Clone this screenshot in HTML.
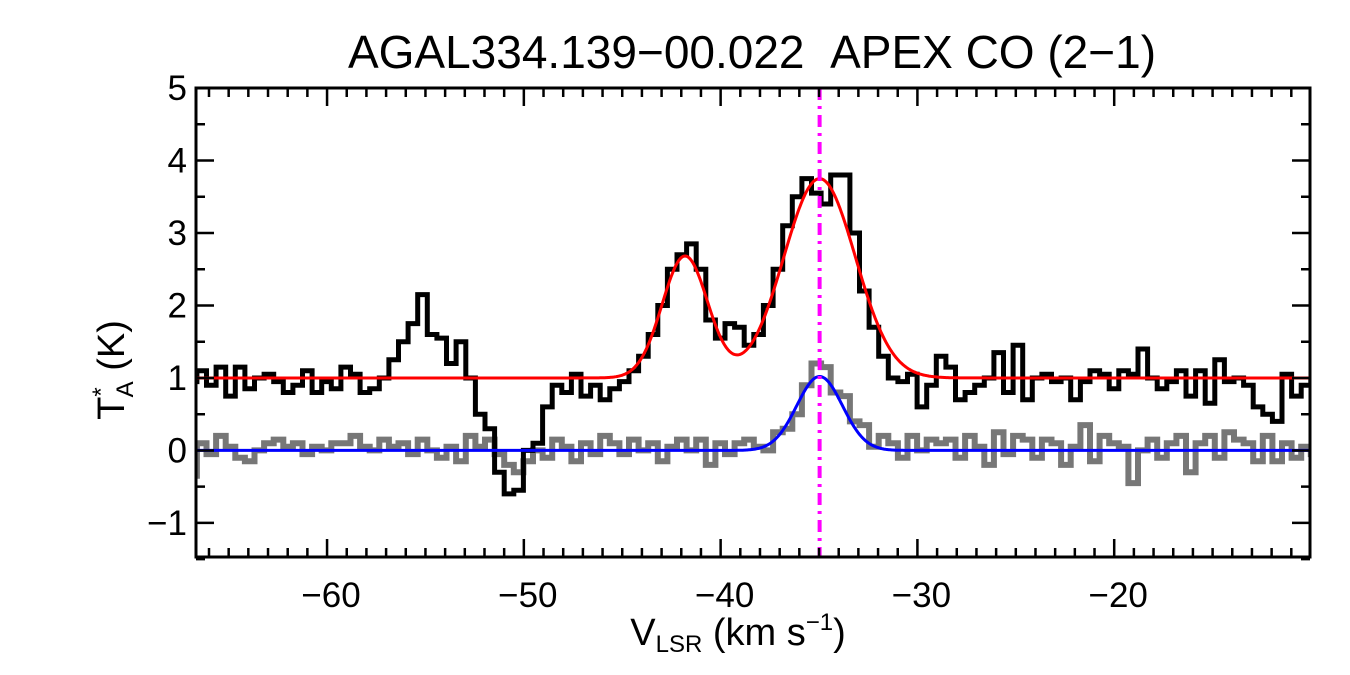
<!DOCTYPE html>
<html><head><meta charset="utf-8"><style>
html,body{margin:0;padding:0;background:#fff}
svg{display:block;font-family:"Liberation Sans",sans-serif}
</style></head><body>
<svg id="chart" width="1350" height="675" viewBox="0 0 1350 675">
<text x="752" y="68" text-anchor="middle" font-size="46">AGAL334.139−00.022&#160;&#160;APEX CO (2−1)</text>
<g id="plot"></g>
<text x="738" y="645" text-anchor="middle" font-size="38">V<tspan font-size="24" dy="7">LSR</tspan><tspan dy="-7"> (km s</tspan><tspan font-size="24" dy="-15">−1</tspan><tspan dy="15">)</tspan></text>
<text transform="translate(124,370) rotate(-90)" text-anchor="middle" font-size="38">T<tspan font-size="24" dy="-15">*</tspan><tspan font-size="24" dx="-10" dy="24">A</tspan><tspan dy="-9"> (K)</tspan></text>
</svg>
<script>
const vStart = -66.86, vStep = 0.488;
const blackVals = [0.95,1.1,0.9,1.15,0.75,1.15,0.85,1.0,1.05,0.95,0.8,0.9,1.1,0.8,0.95,0.85,1.15,1.05,0.8,0.85,1.0,1.25,1.5,1.75,2.15,1.6,1.55,1.2,1.5,1.0,0.5,0.3,-0.3,-0.6,-0.55,0.0,0.1,0.6,0.9,0.8,1.05,0.75,0.9,0.7,0.85,0.95,1.1,1.3,1.6,2.0,2.5,2.7,2.85,2.5,1.8,1.55,1.75,1.7,1.45,1.6,2.0,2.5,3.1,3.5,3.75,3.55,3.4,3.8,3.8,3.0,2.2,1.7,1.3,1.0,0.95,1.05,0.6,0.9,
1.3,1.15,0.7,0.8,0.9,1.0,1.35,0.8,1.45,0.7,1.0,1.05,0.95,1.0,0.7,0.95,1.1,1.05,0.85,1.1,1.05,1.4,1.0,0.85,0.95,1.1,0.75,1.1,0.65,1.25,0.95,1.0,0.9,0.6,0.5,0.4,1.05,0.75,0.9,0.95];
const grayVals = [-0.35,0.1,-0.05,0.2,0.05,-0.1,-0.15,0.0,0.1,0.15,0.05,0.1,-0.05,0.05,0.0,0.1,0.1,0.2,0.05,0.0,0.15,0.05,0.1,-0.05,0.15,0.0,-0.1,0.05,-0.15,0.2,0.05,0.15,-0.05,-0.2,-0.3,-0.15,0.0,-0.1,0.15,0.05,-0.15,0.1,-0.05,0.2,0.1,-0.05,0.15,0.0,0.1,-0.15,0.05,0.15,0.0,0.15,-0.2,0.1,-0.05,0.1,0.15,0.05,0.0,0.25,0.3,0.5,0.9,1.2,1.15,0.8,0.75,0.4,0.35,0.05,0.2,0.1,-0.1,0.2,0.0,0.15,
0.1,0.15,-0.1,0.2,0.05,-0.2,0.25,-0.05,0.2,0.15,-0.1,0.15,0.1,-0.2,0.05,0.35,-0.15,0.2,0.1,0.05,-0.45,0.0,0.15,-0.1,0.1,0.2,-0.3,0.1,0.2,-0.1,0.25,0.15,0.1,-0.15,0.2,-0.15,0.1,-0.1,0.05,-0.05];
const redBase = 1.0;
const redCenters = [-41.81, -34.97];
const redAmps = [1.68, 2.75];
const redSigmas = [1.16, 1.82];
const blueCenter = -34.97, blueAmp = 1.02, blueSigma = 1.16;
const markerV = -34.97;
const xTicks = [-60,-50,-40,-30,-20];
const yTicks = [-1,0,1,2,3,4,5];

const X0=196, X1=1310, Y0=88, Y1=557;
const vMin=-66.66, vMax=-10.05, tMin=-1.47, tMax=5.0;
const sx = v => X0 + (v - vMin)/(vMax - vMin)*(X1 - X0);
const sy = t => Y1 - (t - tMin)/(tMax - tMin)*(Y1 - Y0);
const NS="http://www.w3.org/2000/svg";
const plot=document.getElementById('plot');
function mk(tag,attrs){const e=document.createElementNS(NS,tag);for(const k in attrs)e.setAttribute(k,attrs[k]);plot.appendChild(e);return e;}

const cp=mk('clipPath',{id:'clip'});
const cr=document.createElementNS(NS,'rect');
cr.setAttribute('x',X0);cr.setAttribute('y',Y0);cr.setAttribute('width',X1-X0);cr.setAttribute('height',Y1-Y0);
cp.appendChild(cr);

function stepPath(vals){
  let d='';
  vals.forEach((t,i)=>{
    const v=vStart+i*vStep;
    const xa=sx(v-vStep/2), xb=sx(v+vStep/2), y=sy(t);
    d += (i===0?'M':'L')+xa.toFixed(1)+','+y.toFixed(1)+'L'+xb.toFixed(1)+','+y.toFixed(1);
  });
  return d;
}
const gray=mk('path',{d:stepPath(grayVals),fill:'none',stroke:'#777',"stroke-width":6,'clip-path':'url(#clip)'});


const black=mk('path',{d:stepPath(blackVals),fill:'none',stroke:'#000',"stroke-width":5,'clip-path':'url(#clip)'});



function curve(f){
  let d='';
  for(let px=X0;px<=X1;px+=1){
    const v=vMin+(px-X0)/(X1-X0)*(vMax-vMin);
    d+=(px===X0?'M':'L')+px+','+sy(f(v)).toFixed(1);
  }
  return d;
}
const g=(v,c,a,s)=>a*Math.exp(-((v-c)**2)/(2*s*s));
const red=mk('path',{d:curve(v=>redBase+redCenters.reduce((acc,c,i)=>acc+g(v,c,redAmps[i],redSigmas[i]),0)),fill:'none',stroke:'#f00',"stroke-width":3});


const blue=mk('path',{d:curve(v=>g(v,blueCenter,blueAmp,blueSigma)),fill:'none',stroke:'#00f',"stroke-width":3});


const vl=mk('line',{x1:sx(markerV),x2:sx(markerV),y1:Y0,y2:Y1,stroke:'#f0f',"stroke-width":4,"stroke-dasharray":'12,6,3,6'});



const frame=mk('rect',{x:X0,y:Y0,width:X1-X0,height:Y1-Y0,fill:'none',stroke:'#000',"stroke-width":3});



let tk='';
for(let v=-66;v<=-11;v++){
  const x=sx(v), L=(v%10===0)?18:9;
  tk+=`M${x},${Y1}v${-L}M${x},${Y0}v${L}`;
}
for(let t=-1.5;t<=5;t+=0.5){
  const y=sy(t), L=(Math.abs(t%1)<1e-6)?18:9;
  tk+=`M${X0},${y}h${L}M${X1},${y}h${-L}`;
}
const ticks=mk('path',{d:tk,stroke:'#000',"stroke-width":2.5,fill:'none'});



xTicks.forEach(v=>{
  const t=mk('text',{x:sx(v)+4,y:607,'text-anchor':'middle','font-size':35});
  t.textContent=String(v).replace('-','−');
  
  
});
yTicks.forEach(v=>{
  const t=mk('text',{x:187,y:sy(v)+12,'text-anchor':'end','font-size':35});
  t.textContent=String(v).replace('-','−');
  
  
});
</script>
</body></html>
